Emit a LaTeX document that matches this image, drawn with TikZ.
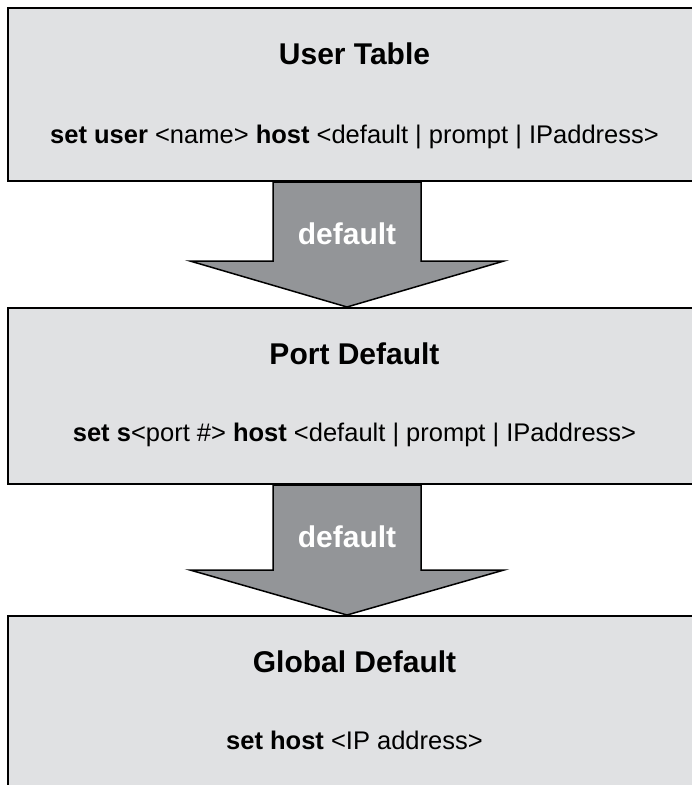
\documentclass[tikz,border=0pt]{standalone}
\usepackage{fontspec}
\setmainfont{Liberation Sans}
\usetikzlibrary{positioning, calc}
\definecolor{boxgray}{HTML}{E0E1E3}
\definecolor{arrowgray}{HTML}{939598}

\begin{document}
\begin{tikzpicture}[
		x=1pt, y=-1pt,
		tier/.style={draw, line width=2pt, fill=boxgray, minimum width=693pt, anchor=north west},
		title/.style={font=\fontsize{30}{35}\selectfont\bfseries},
		cmd/.style={font=\fontsize{25.5}{30}\selectfont},
		flow/.style={draw, line width=1.5pt, fill=arrowgray},
		flowlabel/.style={font=\fontsize{30}{35}\selectfont\bfseries, text=white}
		]
		\useasboundingbox (0,0) rectangle (692,785);
		\clip (0,0) rectangle (692,785);
		% the three tables
		\node[tier, minimum height=173pt] at (7,7) (user) {};
		\node[tier, minimum height=176pt] at (7,307) (port) {};
		\node[tier, minimum height=180pt] at (7,615) (global) {};
		
		\node[title] at ($(user.north)+(0,47)$) (usertitle) {User Table};
		\node[cmd] at ($(user.north)+(0,130)$) (usercmd) {\textbf{set user} <name> \textbf{host} <default | prompt | IPaddress>};
		
		\node[title] at ($(port.north)+(0,47)$) (porttitle) {Port Default};
		\node[cmd] at ($(port.north)+(0,128)$) (portcmd) {\textbf{set s}<port \#> \textbf{host} <default | prompt | IPaddress>};
		
		\node[title] at ($(global.north)+(0,47)$) (globaltitle) {Global Default};
		\node[cmd] at ($(global.north)+(0,125)$) (globalcmd) {\textbf{set host} <IP address>};
		
		% block arrows between the tables
		\coordinate[xshift=-7.5pt] (top1) at (user.south);
		\coordinate[xshift=-7.5pt] (tip1) at (port.north);
		\draw[flow] ($(top1)+(-74,0)$) -- ($(top1)+(74,0)$) -- ($(tip1)+(74,-46)$) -- ($(tip1)+(157,-46)$)
			-- (tip1) -- ($(tip1)+(-157,-46)$) -- ($(tip1)+(-74,-46)$) -- cycle;
		\node[flowlabel] at ($(top1)+(0,52)$) (label1) {default};
		
		\coordinate[xshift=-7.5pt] (top2) at (port.south);
		\coordinate[xshift=-7.5pt] (tip2) at (global.north);
		\draw[flow] ($(top2)+(-74,0)$) -- ($(top2)+(74,0)$) -- ($(tip2)+(74,-45)$) -- ($(tip2)+(157,-45)$)
			-- (tip2) -- ($(tip2)+(-157,-45)$) -- ($(tip2)+(-74,-45)$) -- cycle;
		\node[flowlabel] at ($(top2)+(0,52)$) (label2) {default};
		
	\end{tikzpicture}
\end{document}
